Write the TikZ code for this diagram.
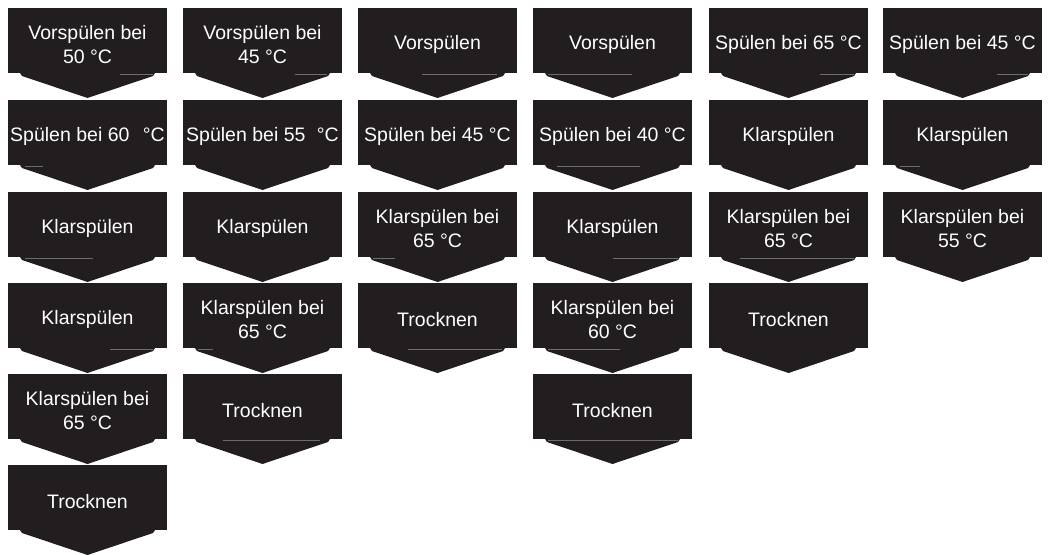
\documentclass[tikz,border=0pt]{standalone}
\usepackage{fontspec}
\setmainfont{Liberation Sans}
\definecolor{boxdark}{HTML}{221E1F}
\definecolor{seamgray}{HTML}{6E6C6C}
\tikzset{
  stepbox/.style={rectangle, fill=boxdark, minimum width=159pt,
    minimum height=65pt, inner sep=0pt, outer sep=0pt},
  steptext/.style={text=white, inner sep=0pt, align=center,
    font=\fontsize{19.5}{23.5}\selectfont},
  tipfill/.style={fill=boxdark},
  seam/.style={draw=seamgray, line width=0.9pt}
}
\newcommand\chevbox[4]{%
  \node[stepbox] (#1) at (#2+79.5,#3+32.5) {};
  \fill[tipfill] ([xshift=-12pt]#1.south east) -- ([xshift=-14pt,yshift=-3pt]#1.south east)
    -- ([yshift=-25pt]#1.south) -- ([xshift=14pt,yshift=-3pt]#1.south west)
    -- ([xshift=12pt]#1.south west) -- cycle;
  \node[steptext] (#1t) at ([yshift=-4pt]#1.center) {#4};}
\newcommand\seamat[3]{%
  \draw[seam] ([xshift=#2pt,yshift=-1.5pt]#1.south west) -- ([xshift=#3pt,yshift=-1.5pt]#1.south west);}
\begin{document}
\begin{tikzpicture}[x=1pt,y=-1pt]
\useasboundingbox (0,0) rectangle (1049,554);
% column 1
\chevbox{a1}{8}{8}{Vorspülen bei\\50 °C}
\chevbox{a2}{8}{100}{Spülen bei 60\hspace{8pt} °C}
\chevbox{a3}{8}{192}{Klarspülen}
\chevbox{a4}{8}{283}{Klarspülen}
\chevbox{a5}{8}{374}{Klarspülen bei\\65 °C}
\chevbox{a6}{8}{465}{Trocknen}
% column 2
\chevbox{b1}{183}{8}{Vorspülen bei\\45 °C}
\chevbox{b2}{183}{100}{Spülen bei 55\hspace{6pt} °C}
\chevbox{b3}{183}{192}{Klarspülen}
\chevbox{b4}{183}{283}{Klarspülen bei\\65 °C}
\chevbox{b5}{183}{374}{Trocknen}
% column 3
\chevbox{c1}{358}{8}{Vorspülen}
\chevbox{c2}{358}{100}{Spülen bei 45 °C}
\chevbox{c3}{358}{192}{Klarspülen bei\\65 °C}
\chevbox{c4}{358}{283}{Trocknen}
% column 4
\chevbox{d1}{533}{8}{Vorspülen}
\chevbox{d2}{533}{100}{Spülen bei 40 °C}
\chevbox{d3}{533}{192}{Klarspülen}
\chevbox{d4}{533}{283}{Klarspülen bei\\60 °C}
\chevbox{d5}{533}{374}{Trocknen}
% column 5
\chevbox{e1}{709}{8}{Spülen bei 65 °C}
\chevbox{e2}{709}{100}{Klarspülen}
\chevbox{e3}{709}{192}{Klarspülen bei\\65 °C}
\chevbox{e4}{709}{283}{Trocknen}
% column 6
\chevbox{f1}{883}{8}{Spülen bei 45 °C}
\chevbox{f2}{883}{100}{Klarspülen}
\chevbox{f3}{883}{192}{Klarspülen bei\\55 °C}
% faint seams at the foot of the boxes
\seamat{a1}{112}{145}
\seamat{b1}{112}{144}
\seamat{c1}{64}{139}
\seamat{d1}{15}{99}
\seamat{e1}{111}{145}
\seamat{f1}{114}{145}
\seamat{a2}{17}{35}
\seamat{d2}{24}{107}
\seamat{f2}{17}{37}
\seamat{a3}{17}{85}
\seamat{c3}{15}{37}
\seamat{d3}{80}{145}
\seamat{e3}{31}{145}
\seamat{a4}{102}{145}
\seamat{b4}{15}{30}
\seamat{c4}{50}{144}
\seamat{d4}{15}{87}
\seamat{b5}{40}{137}
\seamat{d5}{15}{145}
\end{tikzpicture}
\end{document}
